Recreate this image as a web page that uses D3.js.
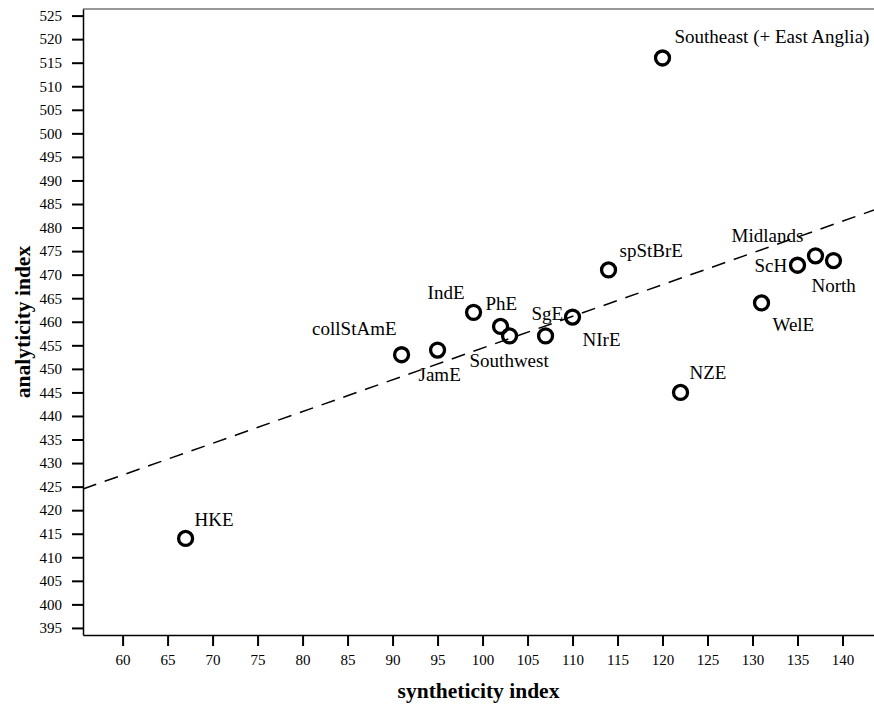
<!DOCTYPE html>
<html>
<head>
<meta charset="utf-8">
<script src="https://cdn.jsdelivr.net/npm/d3@7"></script>
<style>
  body { margin: 0; background: #fff; }
  svg text { font-family: "Liberation Serif", "Times New Roman", serif; fill: #000; }
  .axis text { font-size: 15px; }
  .axis path, .axis line { stroke: #000; }
  .axis line { stroke-width: 2; }
  .axis path { stroke-width: 1.5; }
</style>
</head>
<body>
<div id="chart"></div>
<script>
// varieties and their index values
var varieties = ["HKE", "collStAmE", "JamE", "IndE", "PhE", "Southwest", "SgE", "NIrE",
                 "spStBrE", "Southeast (+ East Anglia)", "NZE", "WelE", "ScH", "Midlands", "North"];
var syntheticity = [67, 91, 95, 99, 102, 103, 107, 110, 114, 120, 122, 131, 135, 137, 139];
var analyticity  = [414, 453, 454, 462, 459, 457, 457, 461, 471, 516, 445, 464, 472, 474, 473];

var xTicks = d3.range(60, 141, 5);
var yTicks = d3.range(395, 526, 5);

// label placement relative to each circle: [dx, dy, anchor]
var labelPos = {
  "HKE": [9, -12, "start"],
  "collStAmE": [-5, -20, "end"],
  "JamE": [-19, 31, "start"],
  "IndE": [-9, -13, "end"],
  "PhE": [-15, -16, "start"],
  "Southwest": [-40, 31, "start"],
  "SgE": [-14, -16, "start"],
  "NIrE": [10, 29, "start"],
  "spStBrE": [11, -13, "start"],
  "Southeast (+ East Anglia)": [12, -15, "start"],
  "NZE": [9, -13, "start"],
  "WelE": [11, 28, "start"],
  "ScH": [-43, 7, "start"],
  "Midlands": [-84, -14, "start"],
  "North": [-22, 31, "start"]
};

var width = 874, height = 704;
var pLeft = 83, pTop = 9, pBottom = 635, pRight = 874;

var svg = d3.select("#chart").append("svg")
    .attr("width", width)
    .attr("height", height);

var x = d3.scaleLinear().domain([55.6, 143.5]).range([pLeft, pRight]);
var y = d3.scaleLinear().domain([393.5, 526.4]).range([pBottom, pTop]);

// top border
svg.append("line")
    .attr("x1", pLeft).attr("x2", pRight)
    .attr("y1", pTop).attr("y2", pTop)
    .attr("stroke", "#777").attr("stroke-width", 1.5);

svg.append("g")
    .attr("class", "axis")
    .attr("transform", "translate(0," + pBottom + ")")
    .call(d3.axisBottom(x).tickValues(xTicks).tickSize(11).tickSizeOuter(0).tickPadding(8));

svg.append("g")
    .attr("class", "axis")
    .attr("transform", "translate(" + pLeft + ",0)")
    .call(d3.axisLeft(y).tickValues(yTicks).tickSize(11).tickSizeOuter(0).tickPadding(10));

// least squares line through the points
var mx = d3.mean(syntheticity), my = d3.mean(analyticity);
var sxy = d3.sum(syntheticity, function(v, i) { return (v - mx) * (analyticity[i] - my); });
var sxx = d3.sum(syntheticity, function(v) { return (v - mx) * (v - mx); });
var slope = sxy / sxx, icpt = my - slope * mx;
var x0 = x.domain()[0], x1 = x.domain()[1];

svg.append("line")
    .attr("x1", x(x0)).attr("y1", y(icpt + slope * x0))
    .attr("x2", x(x1)).attr("y2", y(icpt + slope * x1))
    .attr("stroke", "#000")
    .attr("stroke-width", 1.5)
    .attr("stroke-dasharray", "14,9");

var pts = varieties.map(function(d, i) { return {name: d, sx: syntheticity[i], ay: analyticity[i]}; });

svg.selectAll(".pt")
    .data(pts)
    .enter().append("circle")
    .attr("class", "pt")
    .attr("cx", function(d) { return x(d.sx); })
    .attr("cy", function(d) { return y(d.ay); })
    .attr("r", 7)
    .attr("fill", "none")
    .attr("stroke", "#000")
    .attr("stroke-width", 3.3);

svg.selectAll(".lbl")
    .data(pts)
    .enter().append("text")
    .attr("class", "lbl")
    .attr("x", function(d) { return x(d.sx) + labelPos[d.name][0]; })
    .attr("y", function(d) { return y(d.ay) + labelPos[d.name][1]; })
    .attr("text-anchor", function(d) { return labelPos[d.name][2]; })
    .style("font-size", "19px")
    .text(function(d) { return d.name; });

// axis titles
svg.append("text")
    .attr("x", (pLeft + pRight) / 2)
    .attr("y", 698)
    .attr("text-anchor", "middle")
    .style("font-size", "21.5px")
    .style("font-weight", "bold")
    .text("syntheticity index");

svg.append("text")
    .attr("transform", "translate(30," + (pTop + pBottom) / 2 + ") rotate(-90)")
    .attr("text-anchor", "middle")
    .style("font-size", "21.5px")
    .style("font-weight", "bold")
    .text("analyticity index");
</script>
</body>
</html>
